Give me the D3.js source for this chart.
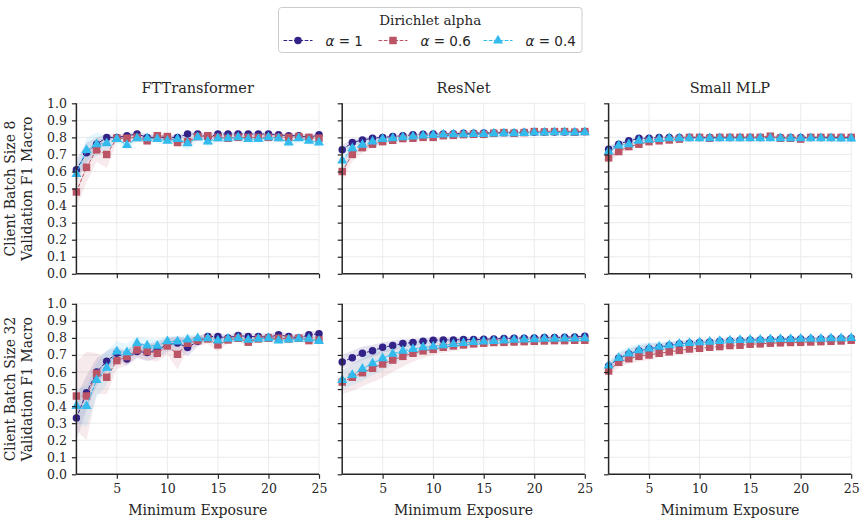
<!DOCTYPE html>
<html lang="en">
<head>
<meta charset="UTF-8">
<title>Validation F1 vs minimum exposure</title>
<script src="https://d3js.org/d3.v7.min.js"></script>
<style>
    body { margin: 0; background: #fff; }
    svg text { fill: #262626; font-family: "DejaVu Serif", serif; }
    svg text.math { font-family: "DejaVu Sans", sans-serif; }
    .grid line { stroke: #ebebeb; stroke-width: 1; }
</style>
</head>
<body>
<svg id="chart" width="866" height="525"></svg>
<script>
// ---- data ----
const exposure = [1,2,3,4,5,6,7,8,9,10,11,12,13,14,15,16,17,18,19,20,21,22,23,24,25];
const models = ["FTTransformer", "ResNet", "Small MLP"];
const batchSizes = [8, 32];
const alphaLabels = ["1", "0.6", "0.4"];
const yTicks = [0,0.1,0.2,0.3,0.4,0.5,0.6,0.7,0.8,0.9,1.0];
const xTicks = [5,10,15,20,25];

// batch size 8
const ft8a1  = [0.61,0.71,0.76,0.80,0.80,0.81,0.82,0.80,0.80,0.80,0.80,0.82,0.82,0.80,0.82,0.82,0.82,0.82,0.82,0.82,0.815,0.81,0.81,0.80,0.815];
const ft8a06 = [0.48,0.625,0.727,0.70,0.795,0.795,0.80,0.78,0.81,0.805,0.77,0.775,0.805,0.81,0.80,0.795,0.80,0.80,0.80,0.80,0.80,0.80,0.805,0.80,0.795];
const ft8a04 = [0.585,0.725,0.76,0.765,0.79,0.755,0.795,0.795,0.79,0.78,0.79,0.765,0.80,0.775,0.795,0.795,0.80,0.79,0.79,0.80,0.795,0.77,0.795,0.78,0.77];
const rn8a1  = [0.727,0.77,0.785,0.795,0.80,0.805,0.81,0.815,0.818,0.82,0.82,0.822,0.824,0.824,0.826,0.826,0.828,0.828,0.83,0.83,0.832,0.832,0.832,0.832,0.834];
const rn8a06 = [0.60,0.70,0.74,0.76,0.775,0.783,0.793,0.795,0.80,0.80,0.81,0.812,0.816,0.818,0.818,0.824,0.828,0.824,0.828,0.834,0.832,0.834,0.834,0.83,0.834];
const rn8a04 = [0.664,0.736,0.756,0.775,0.79,0.795,0.80,0.805,0.81,0.814,0.816,0.818,0.818,0.82,0.82,0.822,0.824,0.824,0.826,0.828,0.828,0.83,0.83,0.828,0.83];
const mlp8a1  = [0.73,0.76,0.78,0.795,0.795,0.80,0.80,0.80,0.80,0.80,0.80,0.80,0.80,0.80,0.80,0.80,0.80,0.80,0.80,0.80,0.80,0.80,0.80,0.80,0.80];
const mlp8a06 = [0.68,0.717,0.746,0.76,0.775,0.78,0.785,0.79,0.80,0.80,0.795,0.80,0.80,0.80,0.80,0.80,0.807,0.795,0.795,0.79,0.80,0.80,0.80,0.80,0.80];
const mlp8a04 = [0.717,0.752,0.76,0.78,0.785,0.79,0.795,0.795,0.795,0.795,0.795,0.795,0.795,0.795,0.795,0.795,0.795,0.795,0.795,0.795,0.795,0.795,0.795,0.793,0.793];
// batch size 32
const ft32a1  = [0.33,0.478,0.60,0.663,0.71,0.676,0.72,0.714,0.73,0.76,0.77,0.743,0.78,0.808,0.808,0.80,0.814,0.808,0.808,0.804,0.818,0.808,0.80,0.818,0.824];
const ft32a06 = [0.459,0.459,0.592,0.569,0.667,0.69,0.729,0.72,0.71,0.753,0.704,0.769,0.784,0.794,0.759,0.788,0.798,0.775,0.794,0.798,0.798,0.794,0.798,0.784,0.788];
const ft32a04 = [0.40,0.40,0.553,0.625,0.72,0.716,0.77,0.755,0.753,0.78,0.778,0.79,0.798,0.798,0.784,0.794,0.798,0.788,0.794,0.798,0.784,0.79,0.794,0.794,0.782];
const rn32a1  = [0.659,0.684,0.71,0.724,0.745,0.755,0.767,0.773,0.78,0.786,0.788,0.788,0.79,0.79,0.792,0.794,0.796,0.798,0.798,0.80,0.802,0.802,0.804,0.806,0.81];
const rn32a06 = [0.541,0.569,0.596,0.622,0.647,0.67,0.692,0.71,0.724,0.733,0.745,0.753,0.759,0.765,0.769,0.773,0.774,0.776,0.778,0.78,0.782,0.784,0.784,0.786,0.786];
const rn32a04 = [0.553,0.582,0.618,0.651,0.68,0.706,0.724,0.735,0.745,0.749,0.757,0.763,0.77,0.775,0.778,0.782,0.784,0.788,0.79,0.792,0.794,0.794,0.796,0.796,0.798];
const mlp32a1  = [0.635,0.68,0.706,0.725,0.737,0.745,0.755,0.765,0.769,0.773,0.776,0.78,0.784,0.786,0.788,0.788,0.79,0.792,0.792,0.794,0.794,0.794,0.796,0.796,0.798];
const mlp32a06 = [0.606,0.657,0.678,0.692,0.70,0.71,0.718,0.727,0.735,0.739,0.745,0.749,0.755,0.757,0.763,0.765,0.769,0.771,0.773,0.774,0.776,0.778,0.78,0.782,0.786];
const mlp32a04 = [0.638,0.682,0.708,0.727,0.738,0.747,0.757,0.766,0.77,0.774,0.777,0.781,0.785,0.787,0.789,0.789,0.791,0.793,0.793,0.795,0.795,0.795,0.797,0.797,0.799];

// half widths of the shaded intervals
const ft8a1Err  = [0.06,0.06,0.04,0.02,0.015,0.015,0.015,0.02,0.015,0.015,0.015,0.015,0.015,0.02,0.015,0.01,0.01,0.01,0.01,0.01,0.01,0.015,0.015,0.015,0.015];
const ft8a06Err = [0.09,0.09,0.07,0.08,0.02,0.02,0.02,0.02,0.02,0.02,0.025,0.02,0.02,0.02,0.015,0.015,0.015,0.015,0.015,0.015,0.015,0.015,0.015,0.015,0.015];
const ft8a04Err = [0.05,0.07,0.07,0.04,0.02,0.03,0.02,0.02,0.02,0.02,0.03,0.04,0.02,0.03,0.02,0.02,0.02,0.02,0.02,0.02,0.02,0.025,0.02,0.02,0.025];
const rn8a1Err  = [0.03,0.02,0.015,0.012,0.01,0.01,0.01,0.01,0.01,0.01,0.01,0.01,0.01,0.01,0.01,0.01,0.01,0.01,0.01,0.01,0.01,0.01,0.01,0.01,0.01];
const rn8a06Err = [0.06,0.04,0.03,0.02,0.015,0.015,0.012,0.012,0.01,0.01,0.01,0.01,0.01,0.01,0.01,0.01,0.01,0.01,0.01,0.01,0.01,0.01,0.01,0.01,0.01];
const rn8a04Err = [0.07,0.04,0.03,0.02,0.015,0.012,0.012,0.01,0.01,0.01,0.01,0.01,0.01,0.01,0.01,0.01,0.01,0.01,0.01,0.01,0.01,0.01,0.01,0.01,0.01];
const mlp8a1Err  = [0.02,0.015,0.012,0.01,0.008,0.008,0.008,0.008,0.008,0.008,0.008,0.008,0.008,0.008,0.008,0.008,0.008,0.008,0.008,0.008,0.008,0.008,0.008,0.008,0.008];
const mlp8a06Err = [0.02,0.02,0.015,0.012,0.01,0.01,0.01,0.01,0.01,0.01,0.01,0.01,0.01,0.01,0.01,0.01,0.01,0.01,0.01,0.01,0.01,0.01,0.01,0.01,0.01];
const mlp8a04Err = [0.03,0.025,0.02,0.015,0.01,0.01,0.01,0.01,0.01,0.01,0.01,0.01,0.01,0.01,0.01,0.01,0.01,0.01,0.01,0.01,0.01,0.01,0.01,0.01,0.01];
const ft32a1Err  = [0.13,0.1,0.08,0.06,0.04,0.04,0.04,0.05,0.05,0.04,0.04,0.05,0.03,0.02,0.02,0.02,0.02,0.02,0.02,0.02,0.02,0.02,0.02,0.02,0.02];
const ft32a06Err = [0.2,0.26,0.12,0.1,0.05,0.05,0.04,0.05,0.05,0.05,0.09,0.04,0.03,0.03,0.04,0.02,0.02,0.02,0.02,0.02,0.02,0.02,0.02,0.02,0.02];
const ft32a04Err = [0.1,0.12,0.1,0.1,0.06,0.05,0.04,0.04,0.04,0.03,0.03,0.03,0.02,0.02,0.02,0.02,0.02,0.02,0.02,0.02,0.02,0.02,0.02,0.02,0.02];
const rn32a1Err  = [0.04,0.04,0.04,0.035,0.03,0.03,0.025,0.02,0.02,0.02,0.015,0.015,0.015,0.012,0.012,0.01,0.01,0.01,0.01,0.01,0.01,0.01,0.01,0.01,0.01];
const rn32a06Err = [0.07,0.08,0.08,0.08,0.08,0.07,0.06,0.05,0.04,0.035,0.03,0.03,0.025,0.02,0.02,0.02,0.015,0.015,0.015,0.015,0.015,0.015,0.015,0.015,0.015];
const rn32a04Err = [0.06,0.06,0.07,0.07,0.07,0.06,0.05,0.04,0.035,0.03,0.025,0.02,0.02,0.02,0.015,0.015,0.015,0.015,0.015,0.015,0.015,0.015,0.015,0.015,0.015];
const mlp32a1Err  = [0.02,0.03,0.03,0.03,0.03,0.025,0.02,0.02,0.015,0.015,0.015,0.012,0.012,0.01,0.01,0.01,0.01,0.01,0.01,0.01,0.01,0.01,0.01,0.01,0.01];
const mlp32a06Err = [0.03,0.03,0.03,0.03,0.03,0.025,0.02,0.02,0.02,0.015,0.015,0.015,0.012,0.012,0.01,0.01,0.01,0.01,0.01,0.01,0.01,0.01,0.01,0.01,0.01];
const mlp32a04Err = [0.03,0.04,0.04,0.04,0.035,0.03,0.025,0.02,0.02,0.015,0.015,0.015,0.012,0.012,0.01,0.01,0.01,0.01,0.01,0.01,0.01,0.01,0.01,0.01,0.01];

const panels = [
    [ {means: [ft8a1, ft8a06, ft8a04], errs: [ft8a1Err, ft8a06Err, ft8a04Err]},
      {means: [rn8a1, rn8a06, rn8a04], errs: [rn8a1Err, rn8a06Err, rn8a04Err]},
      {means: [mlp8a1, mlp8a06, mlp8a04], errs: [mlp8a1Err, mlp8a06Err, mlp8a04Err]} ],
    [ {means: [ft32a1, ft32a06, ft32a04], errs: [ft32a1Err, ft32a06Err, ft32a04Err]},
      {means: [rn32a1, rn32a06, rn32a04], errs: [rn32a1Err, rn32a06Err, rn32a04Err]},
      {means: [mlp32a1, mlp32a06, mlp32a04], errs: [mlp32a1Err, mlp32a06Err, mlp32a04Err]} ]
];

// ---- layout ----
const colors = ["#332288", "#BB5566", "#33BBEE"];
const symbols = [d3.symbolCircle, d3.symbolSquare, d3.symbolTriangle];
const symbolSizes = [44, 56, 44];
const colLeft = [76.4, 342.2, 608.6];
const panelW = 242.6;
const rowTop = [103.3, 303.8];
const panelH = 170.5;

const svg = d3.select("#chart");

function drawPanel(r, c) {
    const p = panels[r][c];
    const g = svg.append("g").attr("transform", `translate(${colLeft[c]},${rowTop[r]})`);
    const x = d3.scaleLinear().domain([1, 25]).range([0, panelW]);
    const y = d3.scaleLinear().domain([0, 1]).range([panelH, 0]);

    // grid
    const grid = g.append("g").attr("class", "grid");
    grid.selectAll(".gy").data(yTicks).enter().append("line")
        .attr("x1", 0).attr("x2", panelW)
        .attr("y1", d => y(d)).attr("y2", d => y(d));
    grid.selectAll(".gx").data(xTicks).enter().append("line")
        .attr("x1", d => x(d)).attr("x2", d => x(d))
        .attr("y1", 0).attr("y2", panelH);

    // bands
    p.means.forEach((m, i) => {
        const area = d3.area()
            .x((d, k) => x(exposure[k]))
            .y0((d, k) => y(d - p.errs[i][k]))
            .y1((d, k) => y(d + p.errs[i][k]));
        g.append("path").datum(m)
            .attr("d", area)
            .attr("fill", colors[i])
            .attr("fill-opacity", 0.12);
    });

    // lines + markers
    p.means.forEach((m, i) => {
        const line = d3.line().x((d, k) => x(exposure[k])).y(d => y(d));
        g.append("path").datum(m)
            .attr("d", line)
            .attr("fill", "none")
            .attr("stroke", colors[i])
            .attr("stroke-width", 1)
            .attr("stroke-dasharray", "3.7,1.6");
        g.selectAll(".m" + i).data(m).enter().append("path")
            .attr("d", d3.symbol().type(symbols[i]).size(symbolSizes[i]))
            .attr("transform", (d, k) => `translate(${x(exposure[k])},${y(d)})`)
            .attr("fill", colors[i]);
    });

    // axes
    const xAxis = d3.axisBottom(x).tickValues(xTicks).tickSize(4.5).tickPadding(5);
    const yAxis = d3.axisLeft(y).tickValues(yTicks).tickSize(4.5).tickPadding(5).tickFormat(d3.format(".1f"));
    if (r === 0) xAxis.tickFormat("");
    if (c > 0) yAxis.tickFormat("");
    const gx = g.append("g").attr("transform", `translate(0,${panelH})`).call(xAxis);
    const gy = g.append("g").call(yAxis);
    [gx, gy].forEach(a => {
        a.attr("font-family", null).attr("font-size", null);
        a.select(".domain").attr("stroke", "#262626").attr("stroke-width", 1.5);
        a.selectAll(".tick line").attr("stroke", "#262626").attr("stroke-width", 1.2);
        a.selectAll(".tick text").style("font-size", "12.5px").attr("fill", "#262626");
    });
    gx.select(".domain").attr("d", `M0,0H${panelW}`);
    gy.select(".domain").attr("d", `M0,0V${panelH}`);

    if (r === 0) {
        g.append("text").attr("x", panelW / 2).attr("y", -10)
            .attr("text-anchor", "middle").style("font-size", "14.5px")
            .text(models[c]);
    }
    if (r === 1) {
        g.append("text").attr("x", panelW / 2).attr("y", panelH + 41)
            .attr("text-anchor", "middle").style("font-size", "14px")
            .text("Minimum Exposure");
    }
    if (c === 0) {
        const lbl = g.append("text")
            .attr("transform", `translate(-54,${panelH / 2}) rotate(-90)`)
            .attr("text-anchor", "middle").style("font-size", "14px");
        lbl.append("tspan").attr("x", 0).attr("dy", "-0.5em").text(`Client Batch Size ${batchSizes[r]}`);
        lbl.append("tspan").attr("x", 0).attr("dy", "1.15em").text("Validation F1 Macro");
    }
}

for (let r = 0; r < 2; r++) for (let c = 0; c < 3; c++) drawPanel(r, c);

// legend
const lg = svg.append("g").attr("transform", "translate(278.5,7.5)");
lg.append("rect").attr("width", 303.5).attr("height", 45).attr("rx", 3)
    .attr("fill", "#fff").attr("stroke", "#cccccc").attr("stroke-width", 1);
lg.append("text").attr("x", 151.75).attr("y", 17)
    .attr("text-anchor", "middle").style("font-size", "13.5px").text("Dirichlet alpha");
const entryX = [5, 100, 205];
alphaLabels.forEach((a, i) => {
    const e = lg.append("g").attr("transform", `translate(${entryX[i]},33)`);
    e.append("line").attr("x1", 0).attr("x2", 29).attr("y1", 0).attr("y2", 0)
        .attr("stroke", colors[i]).attr("stroke-width", 1).attr("stroke-dasharray", "3.7,1.6");
    e.append("path").attr("d", d3.symbol().type(symbols[i]).size(symbolSizes[i]))
        .attr("transform", "translate(14.5,0)").attr("fill", colors[i]);
    const t = e.append("text").attr("class", "math").attr("x", 42).attr("y", 5).style("font-size", "13.5px");
    t.append("tspan").style("font-style", "italic").text("α");
    t.append("tspan").text(` = ${a}`);
});
</script>
</body>
</html>
